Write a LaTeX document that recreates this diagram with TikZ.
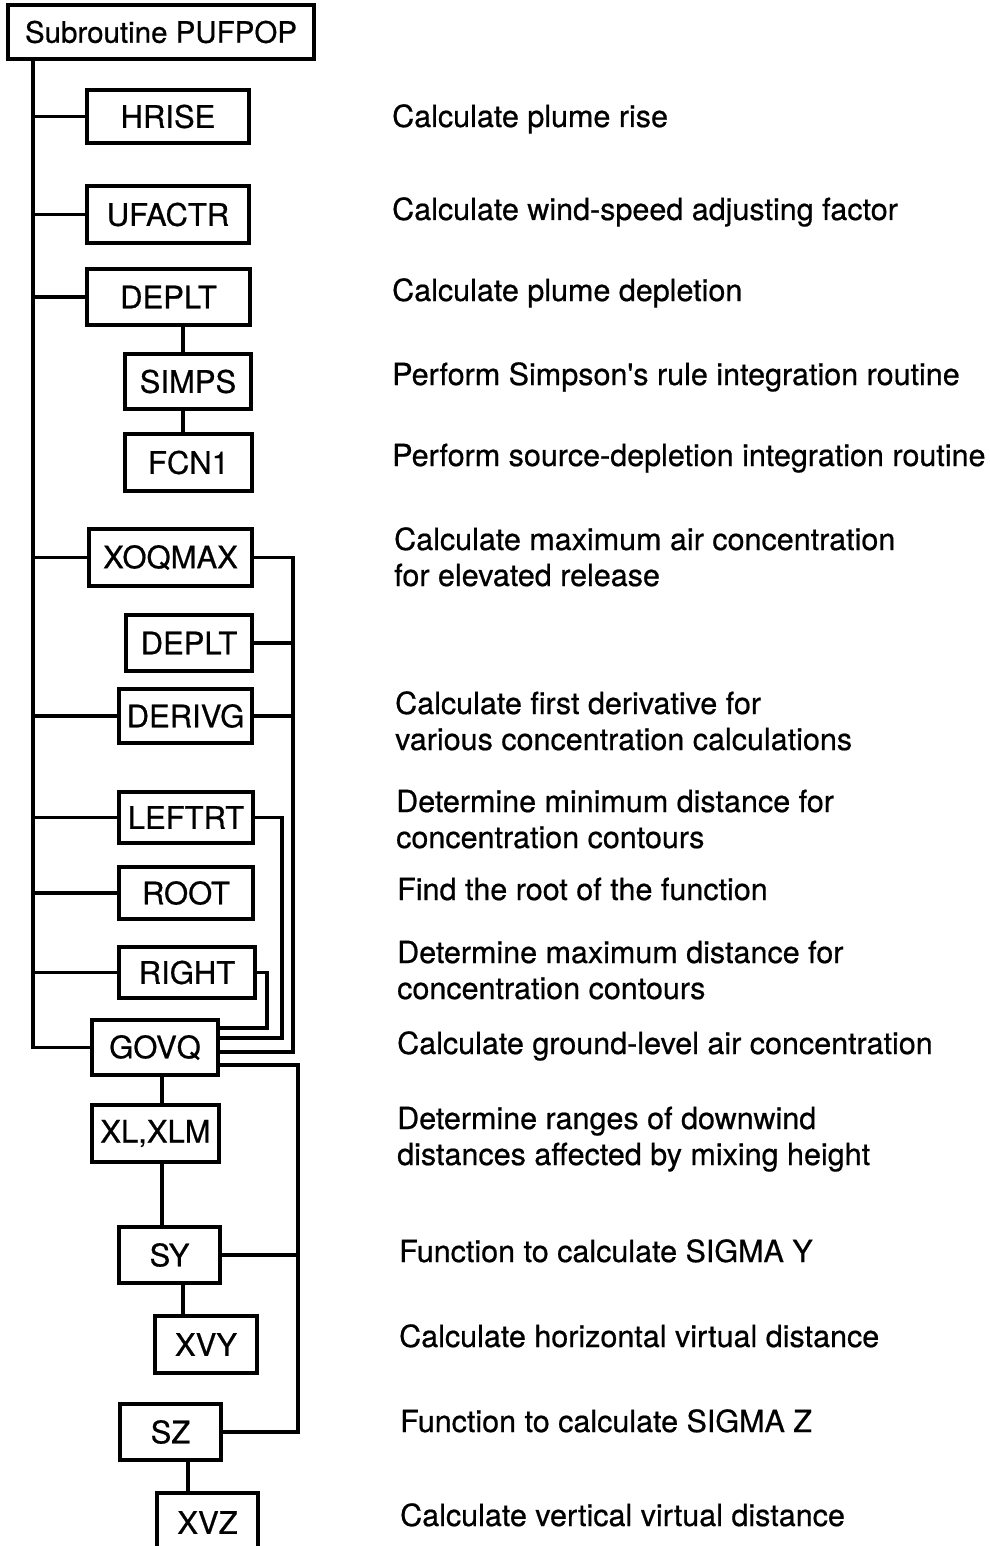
\documentclass[tikz,border=0pt]{standalone}
\usepackage{fontspec}
\setmainfont{TeX Gyre Heros}
\newfontfamily\heavyfam[FakeBold=0.6]{TeX Gyre Heros}
\usetikzlibrary{calc}
\newcommand\dfont{\heavyfam\fontsize{30.5}{36}\selectfont}
\newcommand\bfontx{\heavyfam\fontsize{31}{34}\selectfont}
\newcommand\tfontx{\heavyfam\fontsize{29.5}{34}\selectfont}
\newcommand\boxat[6]{\node[box, minimum width={(#4)-(#2)}, minimum height={(#5)-(#3)}] (#1) at ({((#2)+(#4))/2},{((#3)+(#5))/2}) {#6};}
\tikzset{
  box/.style={draw, line width=3.2pt, inner sep=0pt, font=\bfontx},
  desc/.style={anchor=base west, inner sep=0pt, font=\dfont, align=left},
  conn/.style={line width=3.2pt},
}
\begin{document}
\begin{tikzpicture}[x=1pt,y=-1pt]
\useasboundingbox (0,0) rectangle (989,1546);
\fill[white] (0,0) rectangle (989,1546);
\clip (0,0) rectangle (989,1546);
% boxes
\boxat{top}{8}{5}{314}{59}{\tfontx Subroutine PUFPOP}
\boxat{hrise}{87}{90}{249}{143}{HRISE}
\boxat{ufactr}{87}{186}{249}{243}{UFACTR}
\boxat{deplt}{87}{269}{250}{325}{DEPLT}
\boxat{simps}{125}{354}{251}{409}{SIMPS}
\boxat{fcn}{125}{434}{252}{491}{FCN1}
\boxat{xoqmax}{89}{529}{252}{586}{XOQMAX}
\boxat{depltb}{126}{615}{252}{671}{DEPLT}
\boxat{derivg}{119}{689}{252}{743}{DERIVG}
\boxat{leftrt}{119}{792}{253}{843}{LEFTRT}
\boxat{root}{119}{867}{253}{919}{ROOT}
\boxat{right}{119}{947}{255}{998}{RIGHT}
\boxat{govq}{92}{1020}{218}{1075}{GOVQ}
\boxat{xl}{92}{1105}{219}{1162}{XL,XLM}
\boxat{sy}{119}{1227}{220}{1283}{SY}
\boxat{xvy}{155}{1316}{257}{1373}{XVY}
\boxat{sz}{120}{1404}{221}{1460}{SZ}
\boxat{xvz}{157}{1493}{258}{1552}{XVZ}
% helper coordinates
\coordinate (tr) at (33,0);
\coordinate (bA) at (293,0);
\coordinate (bB) at (282,0);
\coordinate (bC) at (267,0);
\coordinate (bD) at (298,0);
\coordinate (hA) at (0,1052);
\coordinate (hB) at (0,1038);
\coordinate (hC) at (0,1028);
\coordinate (hD) at (0,1065);
\coordinate (vA) at (183,0);
\coordinate (vG) at (162,0);
\coordinate (vZ) at (188,0);
% trunk and branches
\draw[conn] (top.south -| tr) |- (govq.west);
\foreach \n in {hrise,ufactr,deplt,xoqmax,derivg,leftrt,root,right}
  \draw[conn] (tr |- \n.west) -- (\n.west);
% sub-calls
\draw[conn] (deplt.south -| vA) -- (simps.north -| vA);
\draw[conn] (simps.south -| vA) -- (fcn.north -| vA);
\draw[conn] (govq.south -| vG) -- (xl.north -| vG);
\draw[conn] (xl.south -| vG) -- (sy.north -| vG);
\draw[conn] (sy.south -| vA) -- (xvy.north -| vA);
\draw[conn] (sz.south -| vZ) -- (xvz.north -| vZ);
% right buses
\draw[conn] (xoqmax.east) -| (bA |- hA) -- (govq.east |- hA);
\draw[conn] (depltb.east) -- (bA |- depltb.east);
\draw[conn] (derivg.east) -- (bA |- derivg.east);
\draw[conn] (leftrt.east) -| (bB |- hB) -- (govq.east |- hB);
\draw[conn] (right.east) -| (bC |- hC) -- (govq.east |- hC);
\draw[conn] (govq.east |- hD) -| (bD |- sz.east) -- (sz.east);
\draw[conn] (sy.east) -- (bD |- sy.east);
% descriptions (y = baseline of the last line)
\node[desc] (d1) at (392,127) {Calculate plume rise};
\node[desc] (d2) at (392,220) {Calculate wind-speed adjusting factor};
\node[desc] (d3) at (392,301) {Calculate plume depletion};
\node[desc] (d4) at (392,385) {Perform Simpson's rule integration routine};
\node[desc] (d5) at (392,466) {Perform source-depletion integration routine};
\node[desc] (d6) at (394,586) {Calculate maximum air concentration\\for elevated release};
\node[desc] (d7) at (395,750) {Calculate first derivative for\\various concentration calculations};
\node[desc] (d8) at (396,848) {Determine minimum distance for\\concentration contours};
\node[desc] (d9) at (397,900) {Find the root of the function};
\node[desc] (d10) at (397,999) {Determine maximum distance for\\concentration contours};
\node[desc] (d11) at (397,1054) {Calculate ground-level air concentration};
\node[desc] (d12) at (397,1165) {Determine ranges of downwind\\distances affected by mixing height};
\node[desc] (d13) at (399,1262) {Function to calculate SIGMA Y};
\node[desc] (d14) at (399,1347) {Calculate horizontal virtual distance};
\node[desc] (d15) at (400,1432) {Function to calculate SIGMA Z};
\node[desc] (d16) at (400,1526) {Calculate vertical virtual distance};
\end{tikzpicture}
\end{document}
